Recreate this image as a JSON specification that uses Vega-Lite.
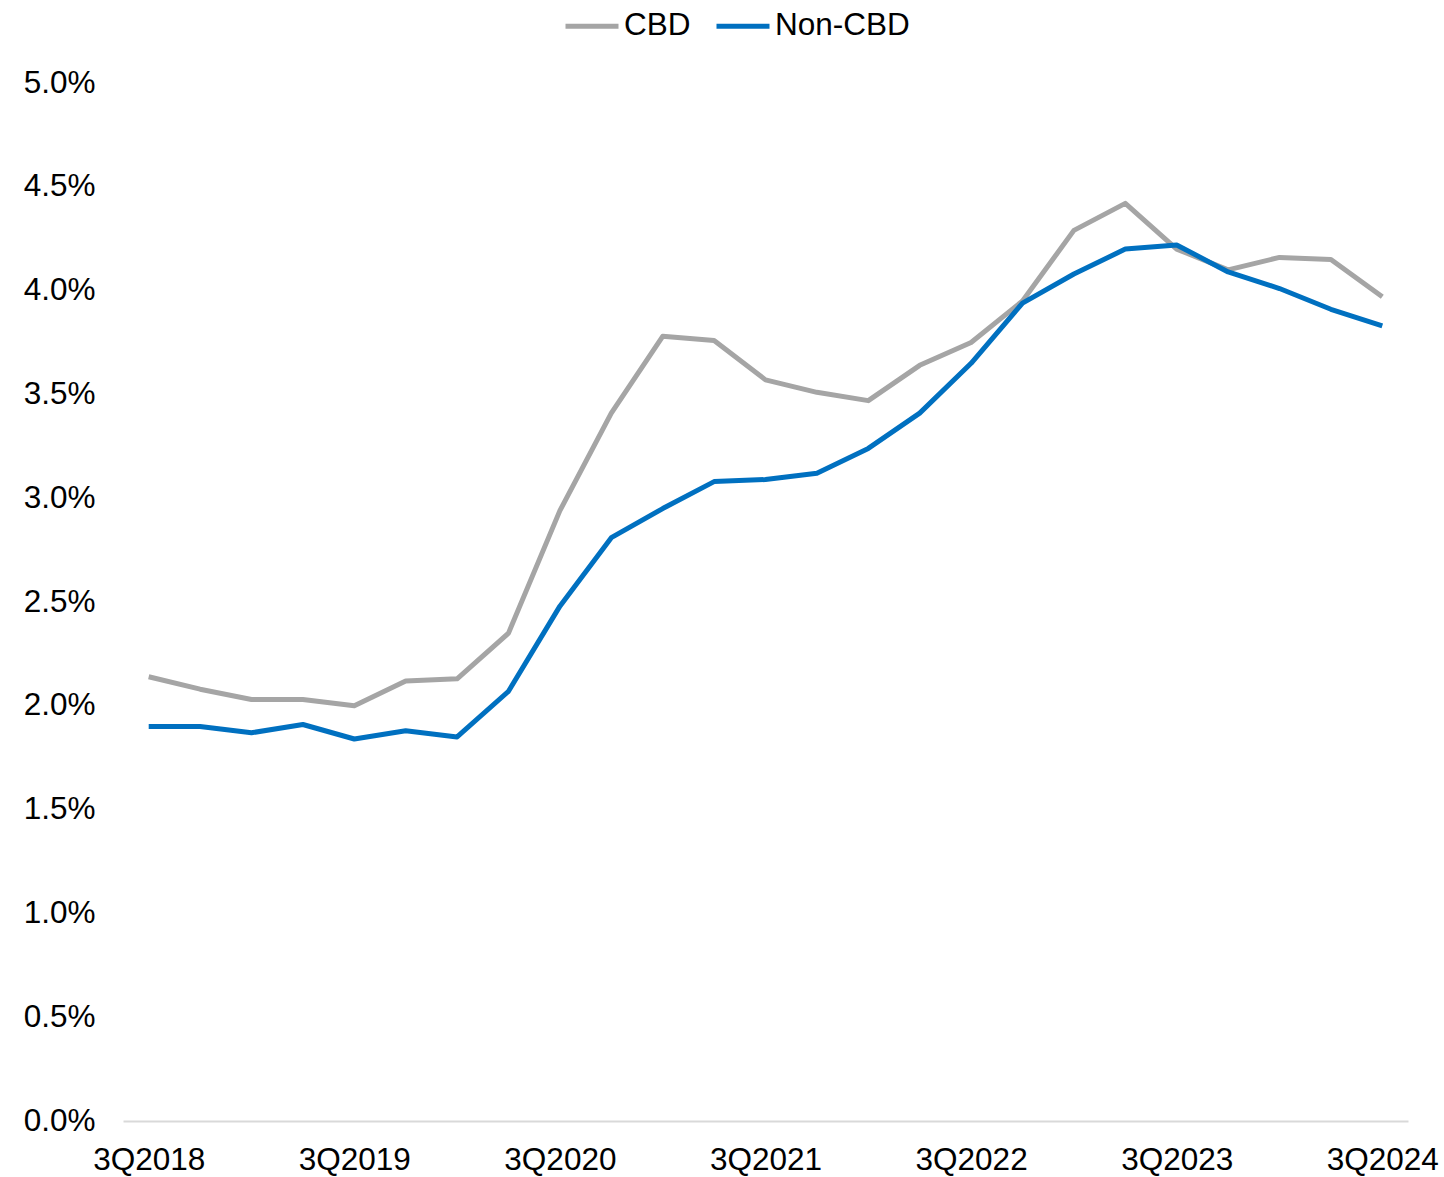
{
  "$schema": "https://vega.github.io/schema/vega-lite/v6.json",
  "width": 1285,
  "height": 1038,
  "autosize": {"type": "none"},
  "padding": {"left": 123, "top": 83, "right": 36, "bottom": 56},
  "background": "white",
  "config": {
    "view": {"stroke": null},
    "font": "Liberation Sans",
    "axis": {"labelFont": "Liberation Sans", "labelColor": "#000000", "labelFontSize": 31.5},
    "legend": {"labelFont": "Liberation Sans", "labelColor": "#000000", "labelFontSize": 31.5}
  },
  "data": {
    "values": [
      {"q": "3Q2018", "CBD": 0.0214, "Non-CBD": 0.0190},
      {"q": "4Q2018", "CBD": 0.0208, "Non-CBD": 0.0190},
      {"q": "1Q2019", "CBD": 0.0203, "Non-CBD": 0.0187},
      {"q": "2Q2019", "CBD": 0.0203, "Non-CBD": 0.0191},
      {"q": "3Q2019", "CBD": 0.0200, "Non-CBD": 0.0184},
      {"q": "4Q2019", "CBD": 0.0212, "Non-CBD": 0.0188},
      {"q": "1Q2020", "CBD": 0.0213, "Non-CBD": 0.0185},
      {"q": "2Q2020", "CBD": 0.0235, "Non-CBD": 0.0207},
      {"q": "3Q2020", "CBD": 0.0294, "Non-CBD": 0.0248},
      {"q": "4Q2020", "CBD": 0.0341, "Non-CBD": 0.0281},
      {"q": "1Q2021", "CBD": 0.0378, "Non-CBD": 0.0295},
      {"q": "2Q2021", "CBD": 0.0376, "Non-CBD": 0.0308},
      {"q": "3Q2021", "CBD": 0.0357, "Non-CBD": 0.0309},
      {"q": "4Q2021", "CBD": 0.0351, "Non-CBD": 0.0312},
      {"q": "1Q2022", "CBD": 0.0347, "Non-CBD": 0.0324},
      {"q": "2Q2022", "CBD": 0.0364, "Non-CBD": 0.0341},
      {"q": "3Q2022", "CBD": 0.0375, "Non-CBD": 0.0365},
      {"q": "4Q2022", "CBD": 0.0395, "Non-CBD": 0.0394},
      {"q": "1Q2023", "CBD": 0.0429, "Non-CBD": 0.0408},
      {"q": "2Q2023", "CBD": 0.0442, "Non-CBD": 0.0420},
      {"q": "3Q2023", "CBD": 0.0420, "Non-CBD": 0.0422},
      {"q": "4Q2023", "CBD": 0.0410, "Non-CBD": 0.0409},
      {"q": "1Q2024", "CBD": 0.0416, "Non-CBD": 0.0401},
      {"q": "2Q2024", "CBD": 0.0415, "Non-CBD": 0.0391},
      {"q": "3Q2024", "CBD": 0.0397, "Non-CBD": 0.0383}
    ]
  },
  "transform": [{"fold": ["CBD", "Non-CBD"], "as": ["series", "value"]}],
  "mark": {"type": "line", "strokeWidth": 5, "strokeJoin": "round"},
  "encoding": {
    "x": {
      "field": "q", "type": "ordinal", "sort": null,
      "scale": {"type": "point", "padding": 0.5},
      "axis": {
        "title": null, "labelAngle": 0, "ticks": false,
        "domainColor": "#d9d9d9", "domainWidth": 2,
        "labelPadding": 23,
        "values": ["3Q2018", "3Q2019", "3Q2020", "3Q2021", "3Q2022", "3Q2023", "3Q2024"]
      }
    },
    "y": {
      "field": "value", "type": "quantitative",
      "scale": {"domain": [0, 0.05], "nice": false, "zero": true},
      "axis": {
        "title": null, "grid": false, "domain": false, "ticks": false,
        "format": ".1%", "labelPadding": 28,
        "values": [0, 0.005, 0.01, 0.015, 0.02, 0.025, 0.03, 0.035, 0.04, 0.045, 0.05]
      }
    },
    "color": {
      "field": "series", "type": "nominal",
      "scale": {"domain": ["CBD", "Non-CBD"], "range": ["#a5a5a5", "#0070c0"]},
      "legend": {
        "title": null, "orient": "none", "direction": "horizontal",
        "legendX": 440, "legendY": -86,
        "symbolType": "stroke", "symbolSize": 2809, "symbolStrokeWidth": 5,
        "labelOffset": 3, "columnPadding": 15, "padding": 0
      }
    }
  }
}
